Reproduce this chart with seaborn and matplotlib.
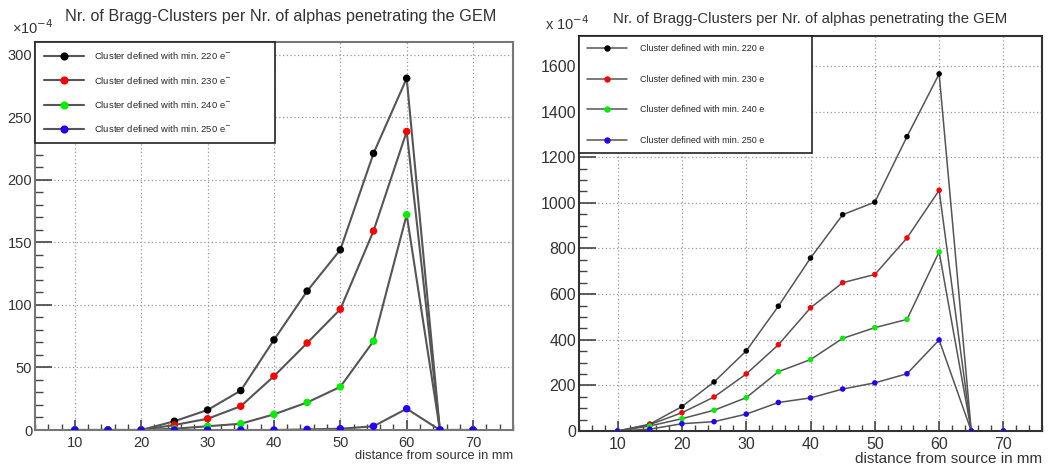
import matplotlib
matplotlib.use("Agg")
import matplotlib.pyplot as plt
from matplotlib.lines import Line2D
from matplotlib.ticker import MultipleLocator
import seaborn as sns
import pandas as pd

# ---------------- data (values in units of 1e-4) ----------------
distance = [10, 15, 20, 25, 30, 35, 40, 45, 50, 55, 60, 65, 70]
series_names = ["220", "230", "240", "250"]
series_colors = ["#000000", "#ff0000", "#00ee00", "#2200ff"]

left_220 = [0, 0, 0, 7, 16, 31.5, 72, 111, 144, 221, 281, 0, 0]
left_230 = [0, 0, 0, 4, 9, 19, 43, 69.5, 96.5, 159, 238.5, 0, 0]
left_240 = [0, 0, 0, 1, 3, 5, 12.5, 22, 34.5, 71, 172, 0, 0]
left_250 = [0, 0, 0, 0, 0, 0, 0, 0.5, 1, 3, 17, 0, 0]

right_220 = [0, 30, 107, 215, 351, 547, 758, 948, 1003, 1290, 1565, 0, 0]
right_230 = [0, 28, 80, 149, 250, 378, 540, 650, 686, 846, 1055, 0, 0]
right_240 = [0, 22, 54, 91, 146, 260, 313, 406, 453, 489, 785, 0, 0]
right_250 = [0, 8, 32, 41, 74, 125, 145, 184, 211, 251, 399, 0, 0]

title = "Nr. of Bragg-Clusters per Nr. of alphas penetrating the GEM"
xlabel = "distance from source in mm"
left_labels = [f"Cluster defined with min. {s} e$^{{-}}$" for s in series_names]
right_labels = [f"Cluster defined with min. {s} e" for s in series_names]


def long_df(cols):
    rows = []
    for name, vals in zip(series_names, cols):
        for xv, yv in zip(distance, vals):
            rows.append({"x": xv, "y": yv, "s": name})
    return pd.DataFrame(rows)


sns.set_style("white")
plt.rcParams["font.family"] = ["Liberation Sans", "DejaVu Sans"]

W, H = 1048, 474
fig = plt.figure(figsize=(W / 100, H / 100), dpi=100)
axL = fig.add_axes([0.0334, 0.0928, 0.456, 0.8186])
axR = fig.add_axes([0.5525, 0.0907, 0.4418, 0.8333])

palette = dict(zip(series_names, series_colors))

cfg = {
    axL: dict(df=long_df([left_220, left_230, left_240, left_250]),
              labels=left_labels, ylim=(0, 310), ymaj=50, ymin=10,
              msize=5.4, lw=1.5, tfs=10.5, mfs=10.5, xlfs=9.3,
              mult="×10$^{-4}$", mult_xy=(12, 37), title_xy=(281, 16.5),
              title_fs=11.7, spcol="#777777", leg_h=98, leg_w=240,
              lsp=1.4, leg_fs=6.8, handlelen=4.3, htp=1.0),
    axR: dict(df=long_df([right_220, right_230, right_240, right_250]),
              labels=right_labels, ylim=(0, 1731), ymaj=200, ymin=50,
              msize=4.0, lw=1.1, tfs=11.5, mfs=10.5, xlfs=11.0,
              mult="x 10$^{-4}$", mult_xy=(545, 33), title_xy=(810, 19.5),
              title_fs=10.7, spcol="#333333", leg_h=120, leg_w=233,
              lsp=2.4, leg_fs=6.5, handlelen=4.4, htp=1.4),
}

for ax, c in cfg.items():
    df = c["df"]
    sns.lineplot(data=df, x="x", y="y", units="s", estimator=None,
                 color="#555555", linewidth=c["lw"], ax=ax, zorder=2)
    sns.scatterplot(data=df, x="x", y="y", hue="s", palette=palette,
                    hue_order=series_names, s=c["msize"] ** 2,
                    edgecolor="none", linewidth=0, legend=False, ax=ax,
                    zorder=3)
    ax.set_xlim(4, 76)
    ax.set_ylim(*c["ylim"])
    ax.xaxis.set_major_locator(MultipleLocator(10))
    ax.xaxis.set_minor_locator(MultipleLocator(2))
    ax.yaxis.set_major_locator(MultipleLocator(c["ymaj"]))
    ax.yaxis.set_minor_locator(MultipleLocator(c["ymin"]))
    ax.set_xticks([10, 20, 30, 40, 50, 60, 70])
    ax.grid(True, which="major", linestyle=(0, (1, 2)), color="#999999",
            linewidth=0.9)
    ax.tick_params(axis="y", which="major", direction="in", length=12,
                   width=1.2, labelsize=c["tfs"], color="#444444",
                   labelcolor="#333333", left=True, pad=2)
    ax.tick_params(axis="y", which="minor", direction="in", length=6,
                   width=1.0, color="#444444", left=True)
    ax.tick_params(axis="x", which="major", direction="in", length=7,
                   width=1.2, labelsize=c["tfs"], color="#444444",
                   labelcolor="#333333", bottom=True, pad=4)
    ax.tick_params(axis="x", which="minor", direction="in", length=4,
                   width=1.0, color="#444444", bottom=True)
    for sp in ax.spines.values():
        sp.set_visible(True)
        sp.set_color(c["spcol"])
        sp.set_linewidth(1.5)
    ax.set_xlabel("")
    ax.set_ylabel("")
    ax.text(1.0, -0.052, xlabel, transform=ax.transAxes, ha="right",
            va="top", fontsize=c["xlfs"], color="#333333")
    fig.text(c["mult_xy"][0] / W, 1 - c["mult_xy"][1] / H, c["mult"],
             ha="left", va="bottom", fontsize=c["mfs"], color="#333333")
    fig.text(c["title_xy"][0] / W, 1 - c["title_xy"][1] / H, title,
             ha="center", va="center", fontsize=c["title_fs"],
             color="#333333")

    handles = [Line2D([0], [0], color="#555555", linewidth=c["lw"],
                      marker="o", markersize=c["msize"] * 0.9,
                      markerfacecolor=col, markeredgecolor=col)
               for col in series_colors]
    bbox_w = c["leg_w"] / (ax.get_position().width * W)
    bbox_h = c["leg_h"] / (ax.get_position().height * H)
    leg = ax.legend(handles, c["labels"], loc="upper left",
                    bbox_to_anchor=(0.0, 1 - bbox_h, bbox_w, bbox_h),
                    mode="expand", borderaxespad=0, fontsize=c["leg_fs"],
                    handlelength=c["handlelen"], labelspacing=c["lsp"],
                    fancybox=False, framealpha=1, edgecolor="#222222",
                    borderpad=0.9, handletextpad=c["htp"])
    leg.get_frame().set_linewidth(1.2)
    leg.set_zorder(5)

fig.savefig("out.png", dpi=100)
